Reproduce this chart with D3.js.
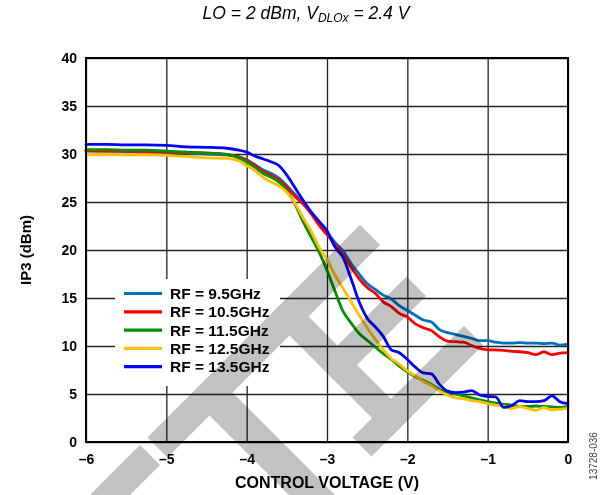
<!DOCTYPE html>
<html><head><meta charset="utf-8">
<script src="https://cdn.jsdelivr.net/npm/d3@7"></script>
<style>body{margin:0;background:#fff} svg{display:block}</style>
</head><body>
<svg id="c" width="605" height="495"></svg>
<script>
// ---------- DATA ----------
const voltage = [-6,-5.75,-5.5,-5.25,-5,-4.75,-4.5,-4.25,-4.1,-4.0,-3.9,-3.8,-3.7,-3.6,-3.5,-3.4,-3.3,-3.2,-3.1,-3.0,-2.9,-2.8,-2.7,-2.6,-2.5,-2.4,-2.3,-2.2,-2.1,-2.0,-1.9,-1.8,-1.7,-1.6,-1.5,-1.4,-1.3,-1.2,-1.1,-1.0,-0.9,-0.8,-0.7,-0.6,-0.5,-0.4,-0.3,-0.2,-0.1,0];
const rf9_5  = [30.3,30.3,30.25,30.2,30.15,30.1,30.0,29.9,29.7,29.4,28.9,28.35,28.0,27.5,26.7,25.8,24.9,23.9,22.8,21.8,20.8,19.9,18.6,17.5,16.5,15.9,15.3,14.9,14.2,13.7,13.2,12.7,12.5,11.7,11.4,11.2,11.0,10.8,10.55,10.55,10.4,10.3,10.3,10.35,10.3,10.3,10.25,10.3,10.1,10.2];
const rf10_5 = [30.35,30.3,30.3,30.25,30.2,30.15,30.1,29.95,29.7,29.35,28.8,28.2,27.8,27.3,26.5,25.6,24.8,23.8,22.6,21.6,20.6,19.5,18.2,17.0,16.1,15.5,14.6,14.1,13.4,13.0,12.3,11.9,11.6,10.95,10.5,10.45,10.4,10.05,9.75,9.6,9.6,9.55,9.45,9.4,9.3,9.1,9.4,9.1,9.25,9.3];
const rf11_5 = [30.45,30.45,30.4,30.4,30.3,30.2,30.1,29.95,29.6,29.2,28.6,28.0,27.6,27.1,26.2,24.8,23.0,21.4,19.8,17.9,15.7,13.6,12.4,11.3,10.6,9.9,9.2,8.6,7.9,7.3,6.8,6.4,6.0,5.5,5.2,5.0,4.8,4.6,4.4,4.2,4.05,3.95,3.85,3.7,3.7,3.75,3.7,3.65,3.6,3.7];
const rf12_5 = [29.95,29.95,29.9,29.9,29.85,29.75,29.6,29.55,29.3,28.8,28.3,27.6,27.1,26.7,26.0,24.9,23.4,22.0,20.3,19.0,17.4,16.0,14.6,13.2,11.9,10.7,9.6,8.7,8.1,7.4,6.9,6.3,5.9,5.3,4.9,4.6,4.5,4.3,4.2,4.0,3.85,3.7,3.5,3.7,3.5,3.3,3.6,3.35,3.4,3.5];
const rf13_5 = [31.0,31.0,30.95,30.95,30.9,30.75,30.7,30.6,30.4,30.2,29.8,29.5,29.2,28.8,27.8,26.5,25.2,24.0,23.0,22.0,20.3,19.2,17.0,14.6,12.9,12.0,11.0,9.6,9.3,8.6,7.8,7.2,7.1,6.0,5.3,5.15,5.2,5.35,4.9,4.75,4.7,3.6,3.8,4.3,4.2,4.2,4.3,4.8,4.2,4.0];
const seriesNames  = ["RF = 9.5GHz","RF = 10.5GHz","RF = 11.5GHz","RF = 12.5GHz","RF = 13.5GHz"];
const seriesValues = [rf9_5, rf10_5, rf11_5, rf12_5, rf13_5];
const seriesColors = ["#0070C0","#FF0000","#009000","#FFC000","#0000FF"];
const xTicks = [-6,-5,-4,-3,-2,-1,0];
const yTicks = [0,5,10,15,20,25,30,35,40];

// ---------- LAYOUT ----------
const L = 86, R = 568, T = 58, B = 442;
const svg = d3.select("#c");
const x = d3.scaleLinear().domain([-6,0]).range([L,R]);
const y = d3.scaleLinear().domain([0,40]).range([B,T]);
const fmt = d => d < 0 ? "\u2013" + Math.abs(d) : String(d);
const bold = "'Liberation Sans', Arial, sans-serif";

// grid
const gx = svg.append("g").attr("transform",`translate(0,${B})`)
  .call(d3.axisBottom(x).tickValues(xTicks).tickSize(-(B-T)).tickFormat(""));
gx.select(".domain").remove();
gx.selectAll("line").attr("stroke","#222").attr("stroke-width",1.3);
const gy = svg.append("g").attr("transform",`translate(${L},0)`)
  .call(d3.axisLeft(y).tickValues(yTicks).tickSize(-(R-L)).tickFormat(""));
gy.select(".domain").remove();
gy.selectAll("line").attr("stroke","#222").attr("stroke-width",1.3);

// tick labels
const ax = svg.append("g").attr("transform",`translate(0,${B})`)
  .call(d3.axisBottom(x).tickValues(xTicks).tickSize(0).tickPadding(12).tickFormat(fmt));
ax.select(".domain").remove();
ax.selectAll("text").attr("font-family",bold).attr("font-weight","bold").attr("font-size",14).attr("fill","#000");
const ay = svg.append("g").attr("transform",`translate(${L},0)`)
  .call(d3.axisLeft(y).tickValues(yTicks).tickSize(0).tickPadding(9).tickFormat(fmt));
ay.select(".domain").remove();
ay.selectAll("text").attr("font-family",bold).attr("font-weight","bold").attr("font-size",14).attr("fill","#000");

// legend background
const lg = svg.append("g");
lg.append("rect").attr("x",115).attr("y",279).attr("width",165).attr("height",107).attr("fill","#fff");

// lines
const line = d3.line().x((d,i)=>x(voltage[i])).y(d=>y(d)).curve(d3.curveMonotoneX);
svg.append("g").selectAll("path").data(seriesValues).join("path")
  .attr("d", v => line(v))
  .attr("fill","none").attr("stroke", (v,i) => seriesColors[i])
  .attr("stroke-width",2.8).attr("stroke-linejoin","round").attr("stroke-linecap","round");

// frame
svg.append("rect").attr("x",L).attr("y",T).attr("width",R-L).attr("height",B-T)
  .attr("fill","none").attr("stroke","#000").attr("stroke-width",2);

// legend
const le = lg.selectAll("g.e").data(seriesNames).join("g").attr("class","e")
  .attr("transform",(d,i)=>`translate(0,${293.5 + i*18.3})`);
le.append("line").attr("x1",124).attr("x2",162).attr("y1",0).attr("y2",0)
  .attr("stroke",(d,i)=>seriesColors[i]).attr("stroke-width",3.2);
le.append("text").attr("x",170).attr("y",5.5).text(d=>d)
  .attr("font-family",bold).attr("font-weight","bold").attr("font-size",15.5).attr("fill","#000");

// axis titles
svg.append("text").attr("x",327).attr("y",488).attr("text-anchor","middle")
  .attr("font-family",bold).attr("font-weight","bold").attr("font-size",16).text("CONTROL VOLTAGE (V)");
svg.append("text").attr("transform","translate(31,250) rotate(-90)").attr("text-anchor","middle")
  .attr("font-family",bold).attr("font-weight","bold").attr("font-size",15).text("IP3 (dBm)");

// title
const tt = svg.append("text").attr("x",306).attr("y",19).attr("text-anchor","middle")
  .attr("font-family","'Liberation Sans', Arial, sans-serif").attr("font-style","italic").attr("font-size",17.5);
tt.append("tspan").text("LO = 2 dBm, V");
tt.append("tspan").attr("font-size",12).attr("dy",3).text("DLOx");
tt.append("tspan").attr("dy",-3).text(" = 2.4 V");

// figure code
svg.append("text").attr("transform","translate(597,456) rotate(-90)").attr("text-anchor","middle")
  .attr("font-family","'Liberation Sans', Arial, sans-serif").attr("font-size",10).attr("fill","#444").text("13728-036");

// watermark (decorative overlay of rotated letter strokes), given in s=x+y, d=x-y coordinates
const toXY = ([s,d]) => [(s+d)/2, (s-d)/2];
const rectSD = (s0,s1,d0,d1) => [[s0,d1],[s1,d1],[s1,d0],[s0,d0]];
const wm = [
  rectSD(585,625,-560,-305),
  rectSD(585,625,-290,135),
  rectSD(624,900,-206,-160),
  rectSD(585,828,-46,-8),
  rectSD(683,722,-46,130),
  rectSD(790,828,-85,138)
];
svg.append("g").style("mix-blend-mode","multiply").selectAll("polygon").data(wm).join("polygon")
  .attr("points", p => p.map(toXY).map(q=>q.join(",")).join(" "))
  .attr("fill","#c2c2c2");
</script>
</body></html>
